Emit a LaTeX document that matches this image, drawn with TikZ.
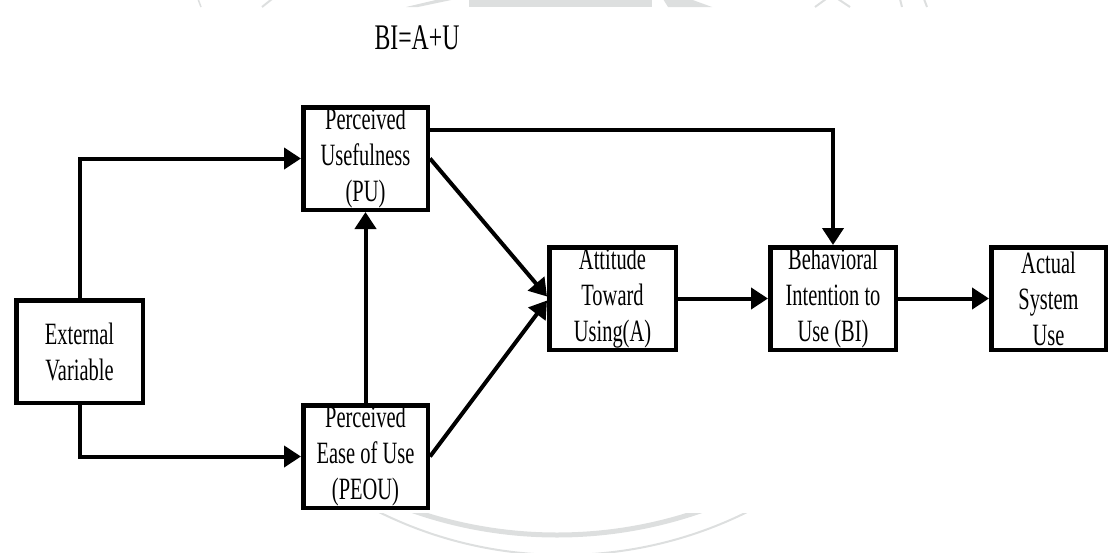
\documentclass[tikz,border=0pt]{standalone}
\usepackage{fontspec}
\setmainfont{Liberation Serif}[FakeStretch=0.66]
\usetikzlibrary{arrows.meta,calc}
\definecolor{wmgray}{RGB}{221,223,223}
\tikzset{
  box/.style={draw, line width=4.5pt, minimum height=102.5pt, inner sep=0pt,
    align=center, font=\fontsize{31}{36}\selectfont},
  arr/.style={line width=4pt, -{Triangle[length=17pt,width=21pt]}},
  faint/.style={wmgray}
}
\begin{document}
\begin{tikzpicture}[x=1pt,y=-1pt]
\useasboundingbox (0,0) rectangle (1110,552);

% faint background emblem, visible only in the top and bottom margins
\begin{scope}
  \clip (0,513) rectangle (1110,560);
  \draw[faint, line width=5pt] (557,97) circle (438pt);
  \draw[faint, line width=2pt] (563,140) circle (415pt);
\end{scope}
\begin{scope}
  \clip (0,-1) rectangle (1110,7);
  \fill[faint] (469,-1) rectangle (652,7);
  \fill[faint] (406,7) -- (418,7) -- (456,-1) -- (440,-1) -- cycle;
  \fill[faint] (663,-1) -- (690,-1) -- (712,7) -- (668,7) -- cycle;
  \draw[faint, line width=1.5pt] (198,-1) -- (201,7);
  \draw[faint, line width=2pt] (262,7) -- (272,-1);
  \draw[faint, line width=2pt] (815,7) -- (826,-1) (838,-1) -- (850,7);
  \draw[faint, line width=2pt] (900,-1) -- (902,7) (924,-1) -- (927,7);
\end{scope}

% formula
\node[font=\fontsize{36}{40}\selectfont] (eq) at (417,38) {BI=A+U};

% constructs
\node[box, minimum width=126.5pt] (ext)  at (79.5,351.5)  {External\\Variable};
\node[box, minimum width=124.5pt] (pu)   at (365.5,158.5) {Perceived\\Usefulness\\(PU)};
\node[box, minimum width=124.5pt] (peou) at (365.5,456.5) {Perceived\\Ease of Use\\(PEOU)};
\node[box, minimum width=126.5pt] (att)  at (612.5,298.5) {Attitude\\Toward\\Using(A)};
\node[box, minimum width=125.5pt] (bi)   at (833,298.5)   {Behavioral\\Intention to\\Use (BI)};
\node[box, minimum width=114.5pt] (act)  at (1048.5,298.5) {Actual\\System\\Use};

% relations
\draw[arr] (ext.north) |- (pu.west);
\draw[arr] (ext.south) |- (peou.west);
\draw[arr] (peou.north) -- (pu.south);
\draw[arr] (pu.east) -- ([yshift=2pt]att.west);
\draw[arr] (peou.east) -- ([yshift=-2pt]att.west);
\draw[arr] ([yshift=28.5pt]pu.east) -| (bi.north);
\draw[arr] (att.east) -- (bi.west);
\draw[arr] (bi.east) -- (act.west);
\end{tikzpicture}
\end{document}
